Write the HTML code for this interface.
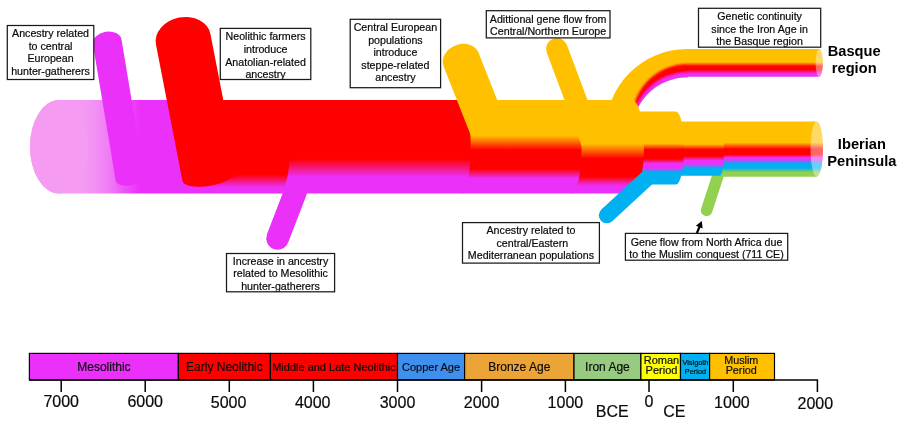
<!DOCTYPE html>
<html><head><meta charset="utf-8"><title>Iberian ancestry timeline</title>
<style>
html,body{margin:0;padding:0;background:#fff;}
svg{display:block;}
text{font-family:"Liberation Sans",sans-serif;fill:#0a0a0a;stroke:#0a0a0a;stroke-width:0.2px;}
text.b{font-weight:bold;fill:#000;stroke:none;}
</style></head><body>
<svg width="910" height="437" viewBox="0 0 910 437">
<defs>
<clipPath id="carc"><path d="M687.5,49 L687,49 A81.1,81.1 0 0 0 605.9,130.1 L605.9,134 L632,134 L632,132.8 A55.5,55.5 0 0 1 687.5,77.3 L688,77.3 L688,49 Z"/></clipPath>
<filter id="barc" x="-10%" y="-10%" width="120%" height="120%"><feGaussianBlur stdDeviation="1.3"/></filter>
<linearGradient id="gbas" gradientUnits="userSpaceOnUse" x1="0" y1="49" x2="0" y2="76.8"><stop offset="0.0000" stop-color="#FFC000"/><stop offset="0.4748" stop-color="#FFC000"/><stop offset="0.6187" stop-color="#FF0000"/><stop offset="0.7374" stop-color="#FF0000"/><stop offset="0.8921" stop-color="#EB30FA"/><stop offset="1.0000" stop-color="#EB30FA"/></linearGradient>
<linearGradient id="gF" gradientUnits="userSpaceOnUse" x1="0" y1="121.5" x2="0" y2="176.7"><stop offset="0.0000" stop-color="#FFC000"/><stop offset="0.3804" stop-color="#FFC000"/><stop offset="0.4982" stop-color="#FF0000"/><stop offset="0.5978" stop-color="#FF0000"/><stop offset="0.6522" stop-color="#EB30FA"/><stop offset="0.6884" stop-color="#EB30FA"/><stop offset="0.7609" stop-color="#00B0F0"/><stop offset="0.8424" stop-color="#00B0F0"/><stop offset="0.9239" stop-color="#92D050"/><stop offset="1.0000" stop-color="#92D050"/></linearGradient>
<linearGradient id="gE" gradientUnits="userSpaceOnUse" x1="0" y1="121.4" x2="0" y2="175.7"><stop offset="0.0000" stop-color="#FFC000"/><stop offset="0.4199" stop-color="#FFC000"/><stop offset="0.5175" stop-color="#FF0000"/><stop offset="0.6372" stop-color="#FF0000"/><stop offset="0.7201" stop-color="#EB30FA"/><stop offset="0.7845" stop-color="#EB30FA"/><stop offset="0.8582" stop-color="#00B0F0"/><stop offset="1.0000" stop-color="#00B0F0"/></linearGradient>
<linearGradient id="gD" gradientUnits="userSpaceOnUse" x1="0" y1="111.4" x2="0" y2="184.5"><stop offset="0.0000" stop-color="#FFC000"/><stop offset="0.4391" stop-color="#FFC000"/><stop offset="0.5212" stop-color="#FF0000"/><stop offset="0.6512" stop-color="#FF0000"/><stop offset="0.7127" stop-color="#EB30FA"/><stop offset="0.7743" stop-color="#EB30FA"/><stop offset="0.8358" stop-color="#00B0F0"/><stop offset="1.0000" stop-color="#00B0F0"/></linearGradient>
<linearGradient id="gC" gradientUnits="userSpaceOnUse" x1="0" y1="100" x2="0" y2="193.5"><stop offset="0.0000" stop-color="#FFC000"/><stop offset="0.4652" stop-color="#FFC000"/><stop offset="0.6257" stop-color="#FF0000"/><stop offset="0.8182" stop-color="#FF0000"/><stop offset="0.9198" stop-color="#EB30FA"/><stop offset="1.0000" stop-color="#EB30FA"/></linearGradient>
<linearGradient id="gB" gradientUnits="userSpaceOnUse" x1="0" y1="100" x2="0" y2="193.5"><stop offset="0.0000" stop-color="#FFC000"/><stop offset="0.3797" stop-color="#FFC000"/><stop offset="0.5348" stop-color="#FF0000"/><stop offset="0.7380" stop-color="#FF0000"/><stop offset="0.8396" stop-color="#EB30FA"/><stop offset="1.0000" stop-color="#EB30FA"/></linearGradient>
<linearGradient id="gA2" gradientUnits="userSpaceOnUse" x1="0" y1="100" x2="0" y2="193.5"><stop offset="0.0000" stop-color="#FF0000"/><stop offset="0.6310" stop-color="#FF0000"/><stop offset="0.8235" stop-color="#EB30FA"/><stop offset="1.0000" stop-color="#EB30FA"/></linearGradient>
<linearGradient id="gA1" gradientUnits="userSpaceOnUse" x1="0" y1="100" x2="0" y2="193.5"><stop offset="0.0000" stop-color="#FF0000"/><stop offset="0.7968" stop-color="#FF0000"/><stop offset="0.9358" stop-color="#EB30FA"/><stop offset="1.0000" stop-color="#EB30FA"/></linearGradient>
<linearGradient id="gA0" gradientUnits="userSpaceOnUse" x1="80" y1="0" x2="140" y2="0"><stop offset="0" stop-color="#F59BF3"/><stop offset="0.22" stop-color="#F393F4"/><stop offset="0.5" stop-color="#F07AF6"/><stop offset="0.78" stop-color="#ED4FF8"/><stop offset="1" stop-color="#EB30FA"/></linearGradient>
</defs>
<rect width="910" height="437" fill="#fff"/>
<g clip-path="url(#carc)"><rect x="600" y="45" width="90" height="92" fill="#FFC000"/><g filter="url(#barc)"><circle cx="687.5" cy="119.6" r="55.5" fill="#FF0000"/><circle cx="687.5" cy="128.3" r="55.5" fill="#EB30FA"/></g></g>
<path d="M686.5,49 L819.2,49 A3.6,13.9 0 0 1 819.2,76.8 L686.5,76.8 Z" fill="url(#gbas)"/>
<ellipse cx="819.2" cy="62.9" rx="3.6" ry="13.9" fill="#fff" fill-opacity="0.4"/>
<line x1="706.6" y1="210.4" x2="719.2" y2="172" stroke="#92D050" stroke-width="11.5" stroke-linecap="round"/>
<path d="M720,121.5 L816.7,121.5 A6.2,27.599999999999994 0 0 1 816.7,176.7 L720,176.7 Z" fill="url(#gF)"/>
<ellipse cx="816.7" cy="149" rx="6.2" ry="27.5" fill="#fff" fill-opacity="0.4"/>
<path d="M676,121.4 L720,121.4 A4,27.14999999999999 0 0 1 720,175.7 L676,175.7 Z" fill="url(#gE)"/>
<path d="M632,111.4 L676,111.4 A8,36.55 0 0 1 676,184.5 L632,184.5 Z" fill="url(#gD)"/>
<path d="M572,100 L632,100 A12,46.75 0 0 1 632,193.5 L572,193.5 Z" fill="url(#gC)"/>
<path d="M606.8,215.3 L646.8,178.4" stroke="#00B0F0" stroke-width="16" stroke-linecap="butt" fill="none"/>
<circle cx="606.8" cy="215.3" r="8" fill="#00B0F0"/>
<path d="M462,100 L572,100 A9.5,46.75 0 0 1 572,193.5 L462,193.5 Z" fill="url(#gB)"/>
<path d="M-10.75,10.5 A10.75,10.5 0 0 1 10.75,10.5 L10.75,110.5 A10.75,0.001 0 0 1 -10.75,110.5 Z" fill="#FFC000" transform="translate(553.1,38.8) rotate(-20.5)" />
<path d="M279,100 L462,100 A8.7,46.75 0 0 1 462,193.5 L279,193.5 Z" fill="url(#gA2)"/>
<path d="M-18.75,15 A18.75,15 0 0 1 18.75,15 L18.75,89 A18.75,4 0 0 1 -18.75,89 Z" fill="#FFC000" transform="translate(455.5,45.4) rotate(-21.5)" />
<path d="M190,100 L279,100 A11,46.75 0 0 1 279,193.5 L190,193.5 Z" fill="url(#gA1)"/>
<line x1="277.5" y1="238.5" x2="296" y2="190.5" stroke="#EB30FA" stroke-width="22.5" stroke-linecap="round"/>
<line x1="277.5" y1="238.5" x2="296" y2="190.5" stroke="#EB30FA" stroke-width="22.5" stroke-linecap="butt"/>
<path d="M59,100 L190.4,100 L190.4,193.5 L59,193.5 A29,46.75 0 0 1 59,100 Z" fill="url(#gA0)"/>
<ellipse cx="59" cy="146.75" rx="29" ry="46.75" fill="#F59CF2"/>
<path d="M-14.5,10 A14.5,10 0 0 1 14.5,10 L14.5,148.6 A14.5,7 0 0 1 -14.5,148.6 Z" fill="#EB30FA" transform="translate(105.5,31.8) rotate(-9.5)" />
<path d="M-27.75,22 A27.75,22 0 0 1 27.75,22 L27.75,161 A27.75,10 0 0 1 -27.75,161 Z" fill="#FF0000" transform="translate(179.0,17.6) rotate(-11)" />
<rect x="7.3" y="25.5" width="86.50" height="54.00" fill="#fff"/>
<text x="50.55" y="37.00" font-size="10.67" text-anchor="middle">Ancestry related</text>
<text x="50.55" y="49.60" font-size="10.67" text-anchor="middle">to central</text>
<text x="50.55" y="62.20" font-size="10.67" text-anchor="middle">European</text>
<text x="50.55" y="74.80" font-size="10.67" text-anchor="middle">hunter-gatherers</text>
<rect x="7.3" y="25.5" width="86.50" height="54.00" fill="none" stroke="#1a1a1a" stroke-width="1.25"/>
<rect x="220.3" y="28.4" width="90.50" height="51.10" fill="#fff"/>
<text x="265.55" y="40.40" font-size="10.67" text-anchor="middle">Neolithic farmers</text>
<text x="265.55" y="53.00" font-size="10.67" text-anchor="middle">introduce</text>
<text x="265.55" y="65.60" font-size="10.67" text-anchor="middle">Anatolian-related</text>
<text x="265.55" y="78.20" font-size="10.67" text-anchor="middle">ancestry</text>
<rect x="220.3" y="28.4" width="90.50" height="51.10" fill="none" stroke="#1a1a1a" stroke-width="1.25"/>
<rect x="350.2" y="19.3" width="90.40" height="68.40" fill="#fff"/>
<text x="395.40" y="31.00" font-size="10.67" text-anchor="middle">Central European</text>
<text x="395.40" y="43.60" font-size="10.67" text-anchor="middle">populations</text>
<text x="395.40" y="56.20" font-size="10.67" text-anchor="middle">introduce</text>
<text x="395.40" y="68.80" font-size="10.67" text-anchor="middle">steppe-related</text>
<text x="395.40" y="81.40" font-size="10.67" text-anchor="middle">ancestry</text>
<rect x="350.2" y="19.3" width="90.40" height="68.40" fill="none" stroke="#1a1a1a" stroke-width="1.25"/>
<rect x="486.3" y="10.7" width="123.70" height="27.20" fill="#fff"/>
<text x="548.15" y="22.80" font-size="10.67" text-anchor="middle">Adittional gene flow from</text>
<text x="548.15" y="35.40" font-size="10.67" text-anchor="middle">Central/Northern Europe</text>
<rect x="486.3" y="10.7" width="123.70" height="27.20" fill="none" stroke="#1a1a1a" stroke-width="1.25"/>
<rect x="698.5" y="8.3" width="122.20" height="38.90" fill="#fff"/>
<text x="759.60" y="19.90" font-size="10.67" text-anchor="middle">Genetic continuity</text>
<text x="759.60" y="32.50" font-size="10.67" text-anchor="middle">since the Iron Age in</text>
<text x="759.60" y="45.10" font-size="10.67" text-anchor="middle">the Basque region</text>
<rect x="698.5" y="8.3" width="122.20" height="38.90" fill="none" stroke="#1a1a1a" stroke-width="1.25"/>
<rect x="462.5" y="222.6" width="136.90" height="40.50" fill="#fff"/>
<text x="530.95" y="234.10" font-size="10.67" text-anchor="middle">Ancestry related to</text>
<text x="532.35" y="246.70" font-size="10.67" text-anchor="middle">central/Eastern</text>
<text x="530.95" y="259.30" font-size="10.67" text-anchor="middle">Mediterranean populations</text>
<rect x="462.5" y="222.6" width="136.90" height="40.50" fill="none" stroke="#1a1a1a" stroke-width="1.25"/>
<rect x="625.4" y="233.4" width="162.30" height="26.80" fill="#fff"/>
<text x="706.55" y="245.50" font-size="10.67" text-anchor="middle">Gene flow from North Africa due</text>
<text x="706.55" y="258.10" font-size="10.67" text-anchor="middle">to the Muslim conquest (711 CE)</text>
<rect x="625.4" y="233.4" width="162.30" height="26.80" fill="none" stroke="#1a1a1a" stroke-width="1.25"/>
<rect x="226.5" y="253.5" width="108.10" height="38.30" fill="#fff"/>
<text x="280.55" y="264.80" font-size="10.67" text-anchor="middle">Increase in ancestry</text>
<text x="280.55" y="277.30" font-size="10.67" text-anchor="middle">related to Mesolithic</text>
<text x="280.55" y="289.80" font-size="10.67" text-anchor="middle">hunter-gatherers</text>
<rect x="226.5" y="253.5" width="108.10" height="38.30" fill="none" stroke="#1a1a1a" stroke-width="1.25"/>
<text x="854.2" y="55.8" font-size="14.67" class="b" text-anchor="middle">Basque</text>
<text x="854.2" y="73.1" font-size="14.67" class="b" text-anchor="middle">region</text>
<text x="861.9" y="148.8" font-size="14.67" class="b" text-anchor="middle">Iberian</text>
<text x="861.9" y="165.7" font-size="14.67" class="b" text-anchor="middle">Peninsula</text>
<path d="M696.9,233 L699.6,226.6" stroke="#000" stroke-width="2.2" fill="none"/>
<path d="M701.8,220.9 L702.6,228.5 L695.9,225.8 Z" fill="#000"/>
<rect x="29.4" y="353.4" width="149.0" height="26.600000000000023" fill="#EB30FA" stroke="#000" stroke-width="1.2"/>
<text x="103.90" y="370.8" font-size="12" text-anchor="middle" fill="#000" fill-opacity="0.97">Mesolithic</text>
<rect x="178.4" y="353.4" width="91.99999999999997" height="26.600000000000023" fill="#FF0000" stroke="#000" stroke-width="1.2"/>
<text x="224.40" y="370.8" font-size="12" text-anchor="middle" fill="#000" fill-opacity="0.97">Early Neolithic</text>
<rect x="270.4" y="353.4" width="127.10000000000002" height="26.600000000000023" fill="#FF0000" stroke="#000" stroke-width="1.2"/>
<text x="333.95" y="370.8" font-size="11" text-anchor="middle" fill="#000" fill-opacity="0.97">Middle and Late Neolithic</text>
<rect x="397.5" y="353.4" width="67.10000000000002" height="26.600000000000023" fill="#3F8FEF" stroke="#000" stroke-width="1.2"/>
<text x="431.05" y="370.8" font-size="11" text-anchor="middle" fill="#000" fill-opacity="0.97">Copper Age</text>
<rect x="464.6" y="353.4" width="109.39999999999998" height="26.600000000000023" fill="#EDA437" stroke="#000" stroke-width="1.2"/>
<text x="519.30" y="370.8" font-size="12" text-anchor="middle" fill="#000" fill-opacity="0.97">Bronze Age</text>
<rect x="574" y="353.4" width="66.89999999999998" height="26.600000000000023" fill="#97CC80" stroke="#000" stroke-width="1.2"/>
<text x="607.45" y="370.8" font-size="12" text-anchor="middle" fill="#000" fill-opacity="0.97">Iron Age</text>
<rect x="640.9" y="353.4" width="39.60000000000002" height="26.600000000000023" fill="#FFFF00" stroke="#000" stroke-width="1.2"/>
<text x="661.50" y="363.8" font-size="11" text-anchor="middle" fill="#000" fill-opacity="0.97">Roman</text>
<text x="661.50" y="374.1" font-size="11" text-anchor="middle" fill="#000" fill-opacity="0.97">Period</text>
<rect x="680.5" y="353.4" width="29.100000000000023" height="26.600000000000023" fill="#00B0F0" stroke="#000" stroke-width="1.2"/>
<text x="695.45" y="365.3" font-size="7.33" text-anchor="middle" fill="#000" fill-opacity="0.97">Visigoth</text>
<text x="695.45" y="373.6" font-size="7.33" text-anchor="middle" fill="#000" fill-opacity="0.97">Period</text>
<rect x="709.6" y="353.4" width="64.89999999999998" height="26.600000000000023" fill="#FFC000" stroke="#000" stroke-width="1.2"/>
<text x="741.25" y="363.8" font-size="10.8" text-anchor="middle" fill="#000" fill-opacity="0.97">Muslim</text>
<text x="741.25" y="374.1" font-size="10.8" text-anchor="middle" fill="#000" fill-opacity="0.97">Period</text>
<path d="M29.4,380.0 L818.1,380.0" stroke="#000" stroke-width="1.5" fill="none"/>
<path d="M61.2,380.0 L61.2,392" stroke="#000" stroke-width="1.5" fill="none"/>
<text x="61.20" y="407.0" font-size="16" text-anchor="middle">7000</text>
<path d="M145.2,380.0 L145.2,392" stroke="#000" stroke-width="1.5" fill="none"/>
<text x="145.20" y="407.3" font-size="16" text-anchor="middle">6000</text>
<path d="M229.3,380.0 L229.3,392" stroke="#000" stroke-width="1.5" fill="none"/>
<text x="228.60" y="407.7" font-size="16" text-anchor="middle">5000</text>
<path d="M313.4,380.0 L313.4,392" stroke="#000" stroke-width="1.5" fill="none"/>
<text x="312.70" y="408.2" font-size="16" text-anchor="middle">4000</text>
<path d="M397.5,380.0 L397.5,392" stroke="#000" stroke-width="1.5" fill="none"/>
<text x="397.50" y="408.2" font-size="16" text-anchor="middle">3000</text>
<path d="M481.6,380.0 L481.6,392" stroke="#000" stroke-width="1.5" fill="none"/>
<text x="481.60" y="408.2" font-size="16" text-anchor="middle">2000</text>
<path d="M565.4,380.0 L565.4,392" stroke="#000" stroke-width="1.5" fill="none"/>
<text x="565.40" y="408.2" font-size="16" text-anchor="middle">1000</text>
<path d="M649,380.0 L649,392" stroke="#000" stroke-width="1.5" fill="none"/>
<text x="649.00" y="407.0" font-size="16" text-anchor="middle">0</text>
<path d="M733.3,380.0 L733.3,392" stroke="#000" stroke-width="1.5" fill="none"/>
<text x="731.90" y="408.3" font-size="16" text-anchor="middle">1000</text>
<path d="M817.4,380.0 L817.4,392" stroke="#000" stroke-width="1.5" fill="none"/>
<text x="815.30" y="408.8" font-size="16" text-anchor="middle">2000</text>
<text x="595.8" y="417.1" font-size="16">BCE</text>
<text x="663.3" y="417.3" font-size="16">CE</text>
</svg>
</body></html>
